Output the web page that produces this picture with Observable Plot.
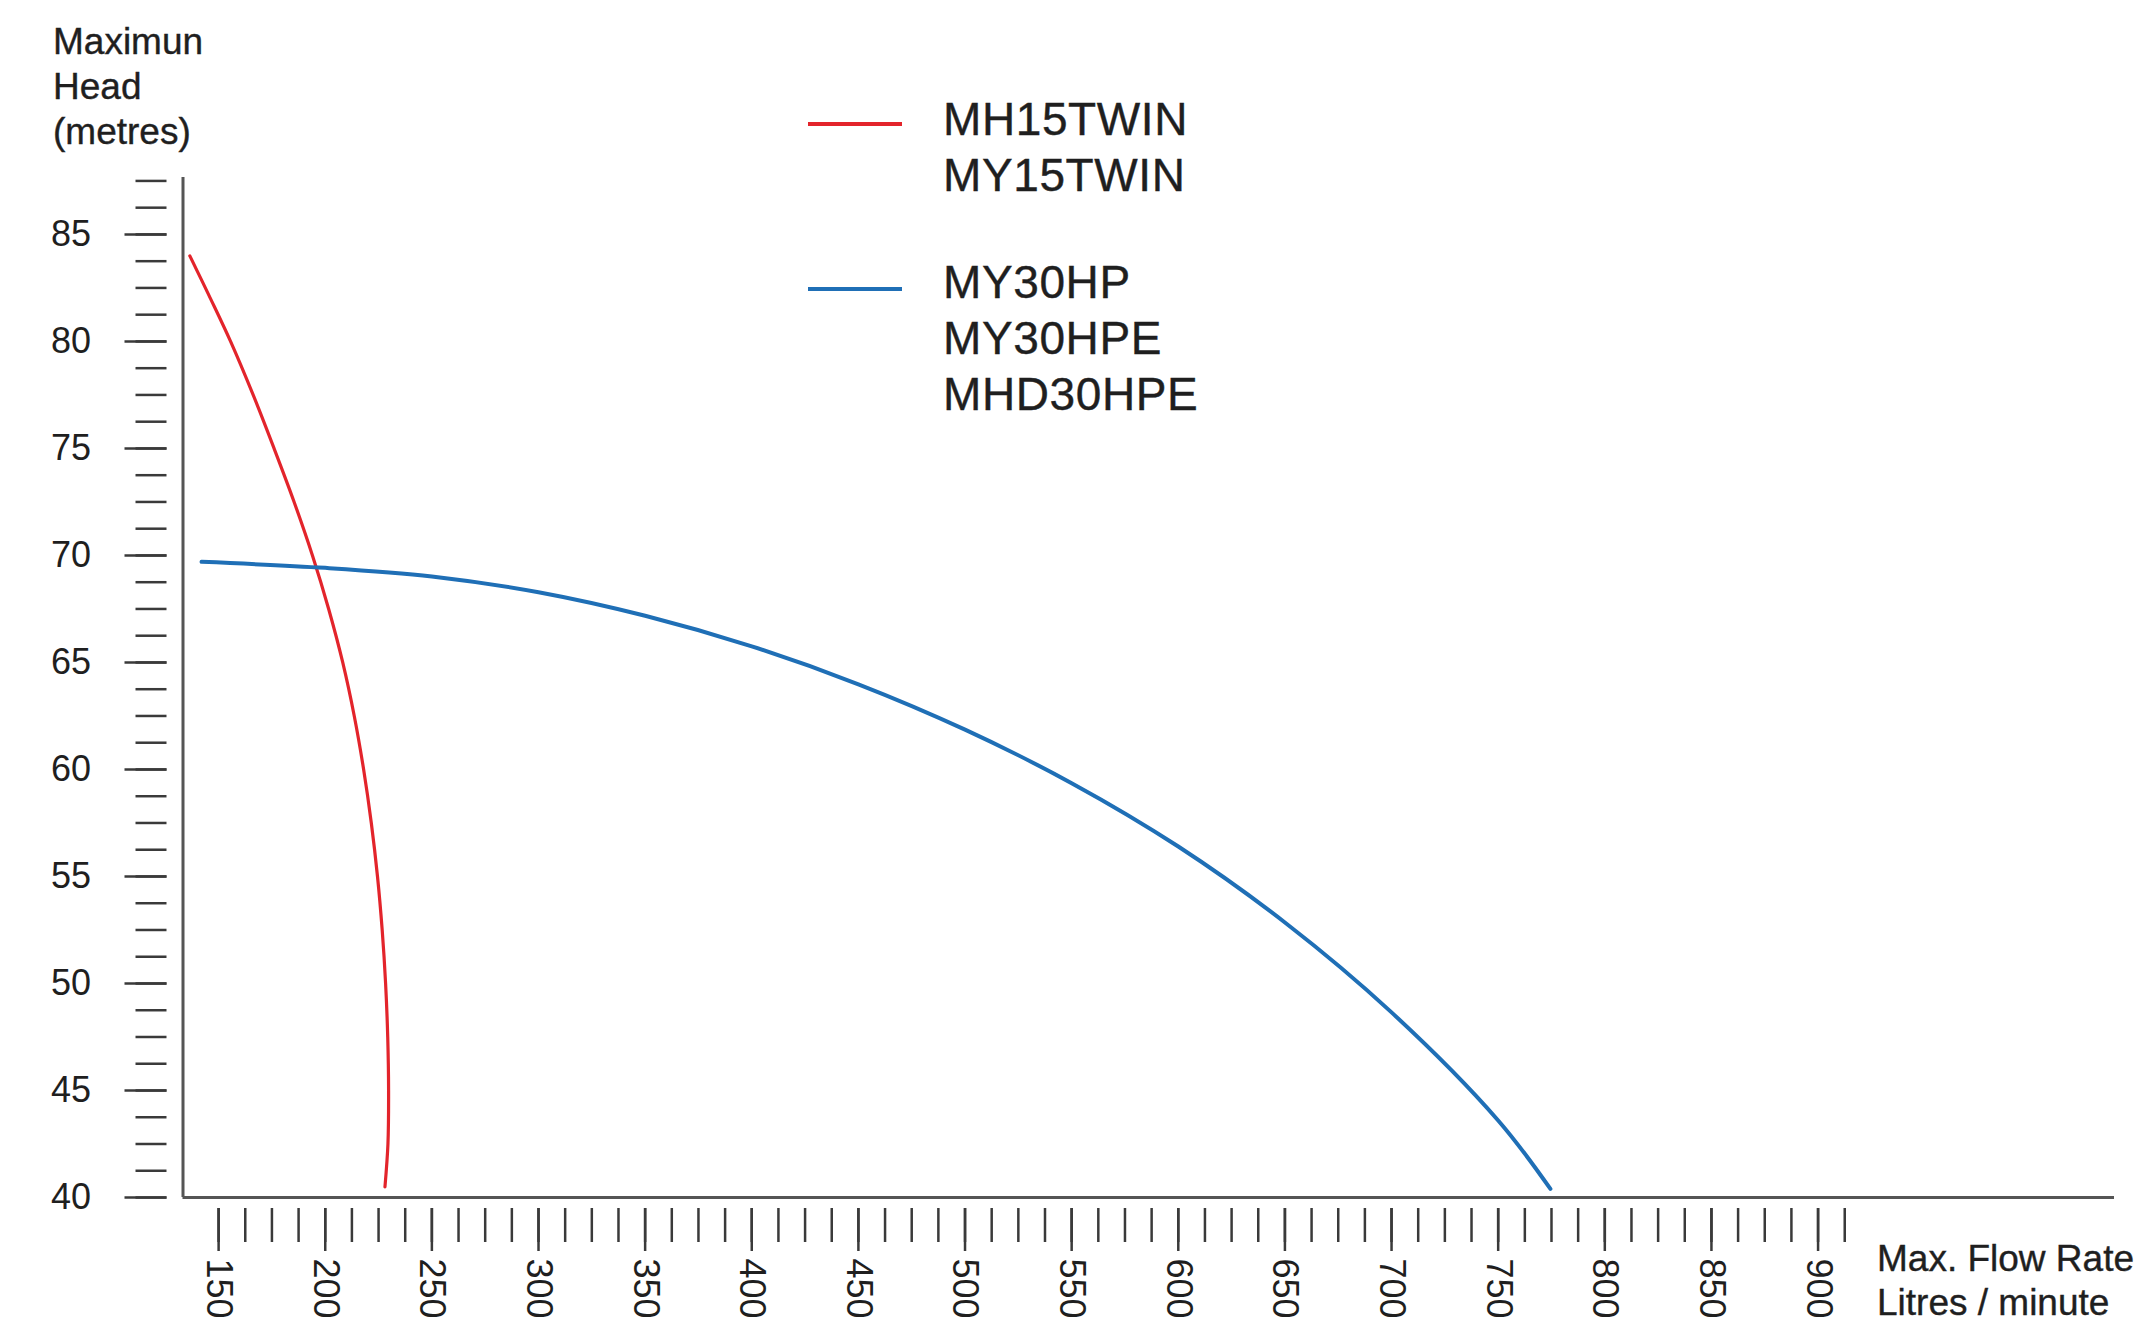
<!DOCTYPE html>
<html>
<head>
<meta charset="utf-8">
<script src="https://cdn.jsdelivr.net/npm/d3@7"></script>
<script src="https://cdn.jsdelivr.net/npm/@observablehq/plot@0.6"></script>
<style>
  html, body { margin: 0; padding: 0; background: #fff; overflow: hidden; }
  #wrap { position: relative; width: 2136px; height: 1329px; font-family: "Liberation Sans", Arial, Helvetica, sans-serif; color: #1f1f1f; }
  #wrap svg { position: absolute; left: 0; top: 0; }
  .ovl { position: absolute; white-space: pre; -webkit-text-stroke: 0.4px #1f1f1f; }
  #ytitle { left: 53px; top: 19px; font-size: 37px; line-height: 45px; }
  #xtitle { left: 1877px; top: 1237px; font-size: 37px; line-height: 44px; }
  .leg { position: absolute; left: 943px; font-size: 46px; line-height: 56px; letter-spacing: 0.6px; white-space: pre; -webkit-text-stroke: 0.4px #1f1f1f; }
  .sw { position: absolute; left: 808px; width: 94px; height: 4px; }
</style>
</head>
<body>
<div id="wrap"></div>
<script>
// ---- data ----
const redFlow = [136.5, 146.2, 155.6, 166.2, 176.0, 185.4, 194.0, 201.6, 208.2, 213.6, 218.0, 221.6, 224.5, 226.7, 228.3, 229.3, 229.7, 229.4, 228.0];
const redHead = [84, 82, 80, 77.5, 75, 72.5, 70, 67.5, 65, 62.5, 60, 57.5, 55, 52.5, 50, 47.5, 45, 42.5, 40.5];

const blueFlow = [142, 200, 250, 300, 350, 400, 450, 500, 550, 600, 650, 700, 750, 774.5];
const blueHead = [69.7, 69.42, 69.02, 68.28, 67.18, 65.75, 63.98, 61.86, 59.36, 56.4, 52.85, 48.65, 43.6, 40.4];

const seriesNames = ["MH15TWIN\nMY15TWIN", "MY30HP\nMY30HPE\nMHD30HPE"];
const seriesColors = ["#e3242b", "#1f6fb6"];

const xMajorTicks = [150, 200, 250, 300, 350, 400, 450, 500, 550, 600, 650, 700, 750, 800, 850, 900];
const xMinorTicks = d3.range(150, 913, 12.5);
const yMajorTicks = [40, 45, 50, 55, 60, 65, 70, 75, 80, 85];
const yMinorTicks = d3.range(40, 87.6, 1.25);

const xDomain = [133.3, 1039];
const yDomain = [40, 87.66];

const yTitle = "Maximun\nHead\n(metres)";
const xTitle = "Max. Flow Rate\nLitres / minute";

// ---- build ----
const red = redFlow.map((x, i) => ({x, y: redHead[i]}));
const blue = blueFlow.map((x, i) => ({x, y: blueHead[i]}));

const axisColor = "#3a3a3a";

const chart = Plot.plot({
  width: 2136,
  height: 1329,
  marginLeft: 182.5,
  marginRight: 22,
  marginTop: 177,
  marginBottom: 132,
  style: { fontFamily: "'Liberation Sans', Arial, Helvetica, sans-serif", fontSize: "36px", color: "#1f1f1f", background: "transparent" },
  x: { domain: xDomain },
  y: { domain: yDomain },
  marks: [
    // minor / major y ticks (offset from axis line)
    Plot.axisY({ ticks: yMinorTicks, tickSize: 31, dx: -16, text: null, label: null, stroke: axisColor, strokeWidth: 2.5 }),
    Plot.axisY({ ticks: yMajorTicks, tickSize: 42, dx: -16, tickPadding: 34, label: null, stroke: axisColor, strokeWidth: 2.5, tickFormat: d => String(d) }),
    // minor / major x ticks
    Plot.axisX({ ticks: xMinorTicks, tickSize: 34, dy: 11, text: null, label: null, stroke: axisColor, strokeWidth: 2.5 }),
    Plot.axisX({ ticks: xMajorTicks, tickSize: 43, dy: 11, tickPadding: 7, tickRotate: 90, label: null, stroke: axisColor, strokeWidth: 2.5, tickFormat: d => String(d) }),
    // axis lines
    Plot.ruleX([xDomain[0]], { stroke: "#555", strokeWidth: 3 }),
    Plot.ruleY([yDomain[0]], { stroke: "#555", strokeWidth: 3 }),
    // curves
    Plot.line(red, { x: "x", y: "y", stroke: seriesColors[0], strokeWidth: 3.2, curve: "catmull-rom" }),
    Plot.line(blue, { x: "x", y: "y", stroke: seriesColors[1], strokeWidth: 4, curve: "catmull-rom" })
  ]
});

const wrap = document.getElementById("wrap");
wrap.appendChild(chart);

function addDiv(cls, id, text, styles) {
  const d = document.createElement("div");
  d.className = cls;
  if (id) d.id = id;
  if (text != null) d.textContent = text;
  Object.assign(d.style, styles || {});
  wrap.appendChild(d);
  return d;
}
addDiv("ovl", "ytitle", yTitle);
addDiv("ovl", "xtitle", xTitle);

// legend
const legTops = [91, 254];
const swatchY = [122, 287];
seriesNames.forEach((name, i) => {
  addDiv("leg", null, name, { top: legTops[i] + "px" });
  addDiv("sw", null, null, { top: swatchY[i] + "px", background: seriesColors[i] });
});
</script>
</body>
</html>
